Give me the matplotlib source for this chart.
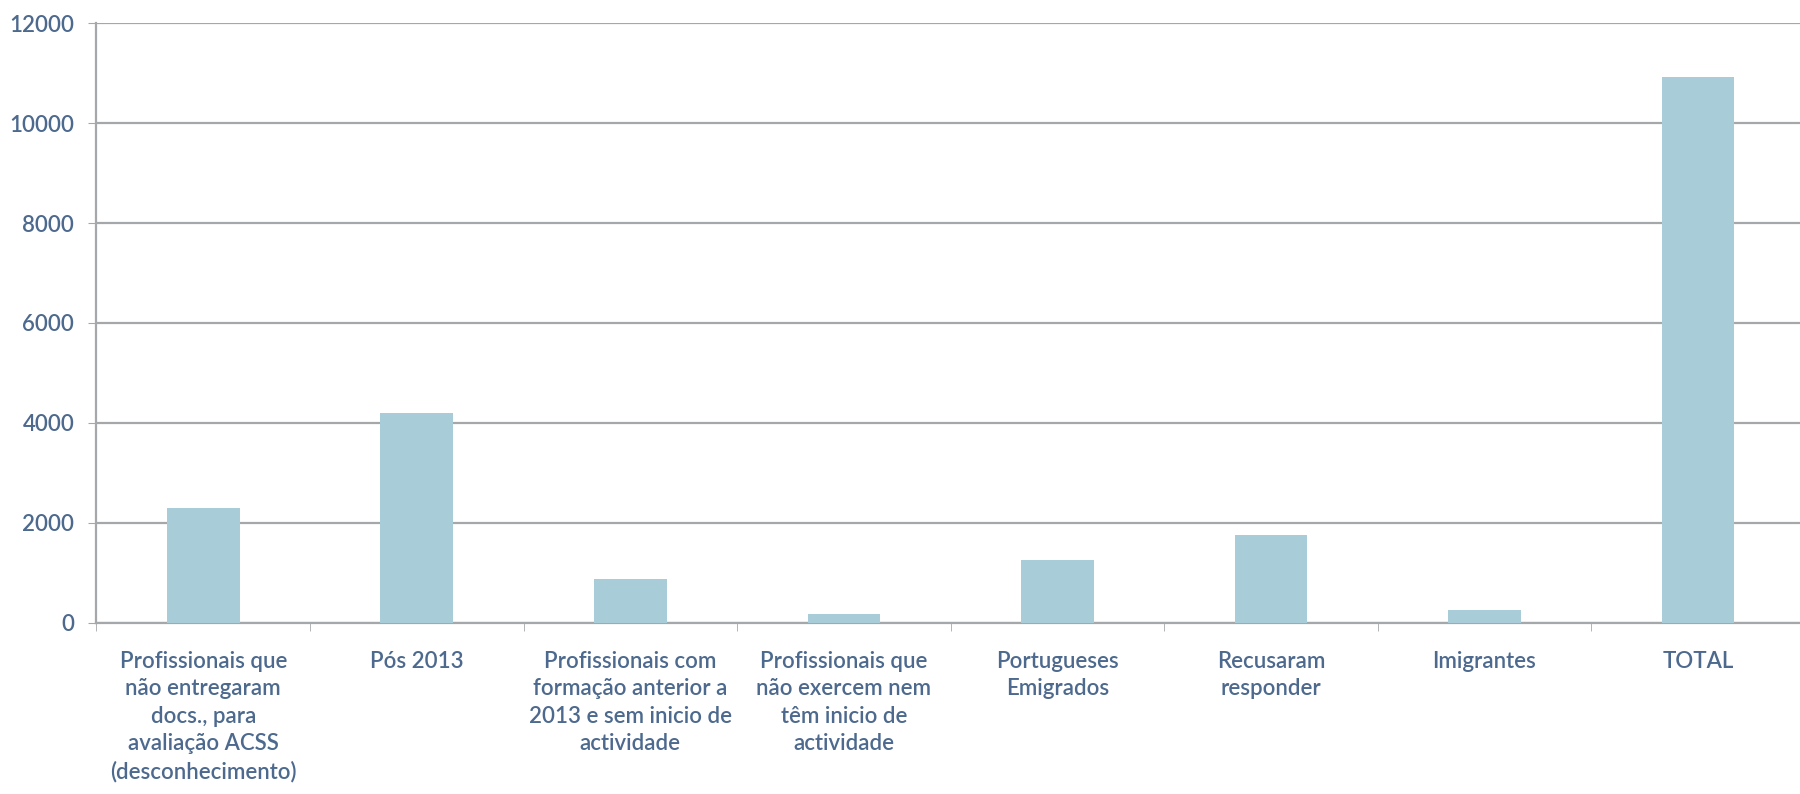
import numpy as np
from matplotlib import pyplot as plt

categories = [
    "Profissionais que\nnão entregaram\ndocs., para\navaliação ACSS\n(desconhecimento)",
    "Pós 2013",
    "Profissionais com\nformação anterior a\n2013 e sem inicio de\nactividade",
    "Profissionais que\nnão exercem nem\ntêm inicio de\nactividade",
    "Portugueses\nEmigrados",
    "Recusaram\nresponder",
    "Imigrantes",
    "TOTAL",
]
values = [2300, 4200, 880, 180, 1250, 1750, 260, 10930]
yticks = [0, 2000, 4000, 6000, 8000, 10000, 12000]

bar_color = "#a9cdd8"
text_color = "#4d6a8e"
grid_color = "#a4a8ab"

plt.rcParams['font.family'] = ['Lato', 'DejaVu Sans']

fig = plt.figure(figsize=(18, 7.94), dpi=100)
# axes placed to match the scanned layout (right edge runs just off the page)
ax = fig.add_axes([0.0536, 0.2154, 0.949, 0.7556])

x = np.arange(len(categories))
ax.bar(x, values, width=0.34, color=bar_color, zorder=3)

ax.set_xlim(-0.5, len(categories) - 0.5)
ax.set_ylim(0, 12000)
ax.set_yticks(yticks)
ax.set_yticklabels([str(v) for v in yticks], fontsize=16, color=text_color,
                   fontweight='semibold')
ax.yaxis.grid(True, color=grid_color, linewidth=1.6, zorder=0)

# category labels centred under bars, ticks at category boundaries
ax.set_xticks(x)
ax.set_xticklabels(categories, fontsize=16, color=text_color, linespacing=1.38,
                   fontweight='semibold')
ax.tick_params(axis='x', which='major', length=0, pad=20)
ax.set_xticks(np.arange(len(categories) + 1) - 0.5, minor=True)
ax.tick_params(axis='x', which='minor', length=6, color=grid_color)
ax.tick_params(axis='y', length=6, color=grid_color, pad=10)

for s in ["top", "right"]:
    ax.spines[s].set_visible(False)
for s in ["left", "bottom"]:
    ax.spines[s].set_color(grid_color)
    ax.spines[s].set_linewidth(1.6)

plt.savefig("out.png", dpi=100)
plt.close()
